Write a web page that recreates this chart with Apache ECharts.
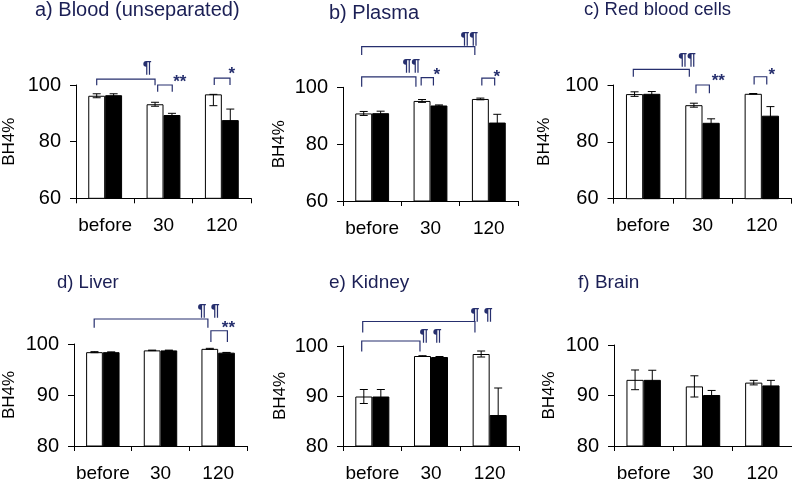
<!DOCTYPE html>
<html>
<head>
<meta charset="utf-8">
<script src="https://cdn.jsdelivr.net/npm/echarts@6/dist/echarts.min.js"></script>
<style>
  html, body { margin: 0; padding: 0; background: #fff; }
  #chart { width: 792px; height: 483px; }
</style>
</head>
<body>
<div id="chart"></div>
<script>
const categories = ['before', '30', '120']

// a) Blood (unseparated)
const bloodWhite = [96.2, 93.2, 96.7]
const bloodWhiteErr = [[0.7, 0.7], [0.7, 0.7], [4.0, 0]]
const bloodBlack = [96.4, 89.4, 87.6]
const bloodBlackErr = [0.5, 0.6, 3.9]
// [label, x1, x2, top, legEnd, labelX, labelY]  (x in category units, y in BH4%)
const bloodBrackets = [
  ['¶', -0.145, 0.855, 102.1, 99.9, 0.72, 106],
  ['**', 0.9, 1.15, 100, 97.6, 1.28, 102.3],
  ['*', 1.87, 2.14, 102.4, 100, 2.17, 105.3]
]

// b) Plasma
const plasmaWhite = [90.8, 95.2, 95.9]
const plasmaWhiteErr = [[0.7, 0.7], [0.5, 0.5], [0.3, 0.3]]
const plasmaBlack = [90.9, 93.6, 87.6]
const plasmaBlackErr = [0.7, 0.2, 2.9]
const plasmaBrackets = [
  ['¶¶', -0.18, 1.76, 114.3, 111.4, 1.665, 117.2],
  ['¶¶', -0.18, 0.75, 103.7, 100.2, 0.672, 107.8],
  ['*', 0.84, 1.05, 103.4, 100.6, 1.107, 105.5],
  ['*', 1.88, 2.1, 103.2, 100.6, 2.136, 104.9]
]

// c) Red blood cells
const rbcWhite = [96.8, 92.9, 96.9]
const rbcWhiteErr = [[0.8, 0.8], [0.7, 0.7], [0.1, 0.1]]
const rbcBlack = [96.9, 86.7, 89.2]
const rbcBlackErr = [0.8, 1.4, 3.2]
const rbcBrackets = [
  ['¶¶', -0.166, 0.778, 105.5, 102.9, 0.74, 109.1],
  ['**', 0.89, 1.116, 100, 97.1, 1.267, 102.7],
  ['*', 1.87, 2.083, 102.9, 100.2, 2.168, 104.7]
]

// d) Liver
const liverWhite = [98.4, 98.75, 99.05]
const liverWhiteErr = [[0.1, 0.1], [0.05, 0.05], [0.1, 0.1]]
const liverBlack = [98.4, 98.75, 98.3]
const liverBlackErr = [0.05, 0.05, 0.05]
const liverBrackets = [
  ['¶ ¶', -0.15, 1.822, 104.9, 103.2, 1.833, 106.6],
  ['**', 1.874, 2.16, 102.6, 100.4, 2.178, 103.9]
]

// e) Kidney
const kidneyWhite = [89.9, 98.0, 98.4]
const kidneyWhiteErr = [[1.4, 1.4], [0.05, 0.05], [0.6, 0.6]]
const kidneyBlack = [89.9, 97.8, 86.2]
const kidneyBlackErr = [1.4, 0.1, 5.4]
const kidneyBrackets = [
  ['¶ ¶', -0.164, 1.749, 104.9, 102.7, 1.863, 106.2],
  ['¶ ¶', -0.181, 0.812, 101, 98.9, 0.994, 102.1]
]

// f) Brain
const brainWhite = [93.1, 91.8, 92.55]
const brainWhiteErr = [[1.95, 1.95], [2.1, 2.1], [0.45, 0.45]]
const brainBlack = [93.1, 90.1, 92.0]
const brainBlackErr = [1.9, 0.9, 1.0]
const brainBrackets = []

const panels = [
  { title: 'a) Blood (unseparated)', white: bloodWhite, whiteErr: bloodWhiteErr, black: bloodBlack, blackErr: bloodBlackErr, brackets: bloodBrackets,
    min: 60, max: 100, step: 20, grid: { left: 75, top: 85, width: 176, height: 113.3 }, tLeft: 35, tTop: 0, tSize: 20, nameGap: 58, nameSize: 17 },
  { title: 'b) Plasma', white: plasmaWhite, whiteErr: plasmaWhiteErr, black: plasmaBlack, blackErr: plasmaBlackErr, brackets: plasmaBrackets,
    min: 60, max: 100, step: 20, grid: { left: 343, top: 87.3, width: 175, height: 113.7 }, tLeft: 329, tTop: 3, tSize: 20, nameGap: 55, nameSize: 17 },
  { title: 'c) Red blood cells', white: rbcWhite, whiteErr: rbcWhiteErr, black: rbcBlack, blackErr: rbcBlackErr, brackets: rbcBrackets,
    min: 60, max: 100, step: 20, grid: { left: 613.5, top: 85, width: 178, height: 113.7 }, tLeft: 584, tTop: 0, tSize: 18.5, nameGap: 61, nameSize: 17 },
  { title: 'd) Liver', white: liverWhite, whiteErr: liverWhiteErr, black: liverBlack, blackErr: liverBlackErr, brackets: liverBrackets,
    min: 80, max: 100, step: 10, grid: { left: 73, top: 344, width: 174, height: 106.7 }, tLeft: 57, tTop: 273, tSize: 18.5, nameGap: 56, nameSize: 17 },
  { title: 'e) Kidney', white: kidneyWhite, whiteErr: kidneyWhiteErr, black: kidneyBlack, blackErr: kidneyBlackErr, brackets: kidneyBrackets,
    min: 80, max: 100, step: 10, grid: { left: 343, top: 346, width: 176, height: 105.7 }, tLeft: 329, tTop: 273, tSize: 19, nameGap: 54, nameSize: 17 },
  { title: 'f) Brain', white: brainWhite, whiteErr: brainWhiteErr, black: brainBlack, blackErr: brainBlackErr, brackets: brainBrackets,
    min: 80, max: 100, step: 10, grid: { left: 614, top: 345, width: 178, height: 105.7 }, tLeft: 578, tTop: 273, tSize: 19, nameGap: 56, nameSize: 17 }
]

const FONT = '"Liberation Sans", Arial, sans-serif'
const NAVY = '#262f6e'
const BAR_SHIFT = 0.145 // half of the bar width, in category units

const chart = echarts.init(document.getElementById('chart'))

const title = []
const grid = []
const xAxis = []
const yAxis = []
const series = []

function errorSeries(idx, side, values, errs) {
  return {
    type: 'custom',
    xAxisIndex: idx,
    yAxisIndex: idx,
    z: 5,
    clip: false,
    silent: true,
    data: values.map((v, i) => {
      const e = errs[i]
      const lo = Array.isArray(e) ? e[0] : e
      const hi = Array.isArray(e) ? e[1] : e
      return [i, v, lo, hi]
    }),
    renderItem(params, api) {
      const c = api.coord([api.value(0), api.value(1)])
      const band = api.size([1, 0])[0]
      const x = c[0] + side * BAR_SHIFT * band
      const yLo = api.coord([0, api.value(1) - api.value(2)])[1]
      const yHi = api.coord([0, api.value(1) + api.value(3)])[1]
      const half = 4
      const style = { stroke: '#000', lineWidth: 1 }
      return {
        type: 'group',
        children: [
          { type: 'line', shape: { x1: x, y1: yLo, x2: x, y2: yHi }, style },
          { type: 'line', shape: { x1: x - half, y1: yHi, x2: x + half, y2: yHi }, style },
          { type: 'line', shape: { x1: x - half, y1: yLo, x2: x + half, y2: yLo }, style }
        ]
      }
    }
  }
}

function bracketSeries(idx, brackets) {
  return {
    type: 'custom',
    xAxisIndex: idx,
    yAxisIndex: idx,
    z: 6,
    clip: false,
    silent: true,
    data: brackets.map(b => b.slice(1)),
    renderItem(params, api) {
      const b = brackets[params.dataIndex]
      const c0 = api.coord([0, api.value(2)])
      const band = api.size([1, 0])[0]
      const px = u => c0[0] + u * band
      const yTop = c0[1]
      const yEnd = api.coord([0, api.value(3)])[1]
      const x1 = px(api.value(0))
      const x2 = px(api.value(1))
      const ly = api.coord([0, api.value(5)])[1]
      const star = b[0].indexOf('*') >= 0
      const style = { stroke: NAVY, lineWidth: 1.2, fill: null }
      return {
        type: 'group',
        children: [
          { type: 'polyline', shape: { points: [[x1, yEnd], [x1, yTop], [x2, yTop], [x2, yEnd]] }, style },
          {
            type: 'text',
            style: {
              text: b[0], x: px(api.value(4)), y: ly + (star ? 4 : 1),
              fill: NAVY, fontFamily: FONT, fontSize: star ? 17 : 16, fontWeight: 'bold',
              align: 'center', verticalAlign: 'middle'
            }
          }
        ]
      }
    }
  }
}

panels.forEach((p, i) => {
  title.push({
    text: p.title, left: p.tLeft, top: p.tTop, padding: 0,
    textStyle: { color: '#1b1f55', fontFamily: FONT, fontSize: p.tSize, fontWeight: 'normal' }
  })
  grid.push(Object.assign({ containLabel: false }, p.grid))
  xAxis.push({
    type: 'category', gridIndex: i, data: categories,
    axisLine: { lineStyle: { color: '#000', width: 1 } },
    axisTick: { show: true, length: 5, lineStyle: { color: '#000' } },
    axisLabel: { color: '#000', fontFamily: FONT, fontSize: 19, margin: 18, interval: 0 }
  })
  yAxis.push({
    type: 'value', gridIndex: i, min: p.min, max: p.max, interval: p.step,
    name: 'BH4%', nameLocation: 'middle', nameGap: p.nameGap,
    nameTextStyle: { color: '#000', fontFamily: FONT, fontSize: p.nameSize },
    axisLine: { show: true, lineStyle: { color: '#000', width: 1 } },
    axisTick: { show: true, length: 6, lineStyle: { color: '#000' } },
    axisLabel: { color: '#000', fontFamily: FONT, fontSize: 20, margin: 15 },
    splitLine: { show: false }
  })
  series.push({
    type: 'bar', xAxisIndex: i, yAxisIndex: i, data: p.white,
    barWidth: '29%', barGap: '0%', silent: true,
    itemStyle: { color: '#fff', borderColor: '#000', borderWidth: 1 }
  })
  series.push({
    type: 'bar', xAxisIndex: i, yAxisIndex: i, data: p.black,
    barWidth: '29%', barGap: '0%', silent: true,
    itemStyle: { color: '#000', borderColor: '#000', borderWidth: 1 }
  })
  series.push(errorSeries(i, -1, p.white, p.whiteErr))
  series.push(errorSeries(i, 1, p.black, p.blackErr))
  if (p.brackets.length) series.push(bracketSeries(i, p.brackets))
})

chart.setOption({
  animation: false,
  backgroundColor: '#fff',
  title,
  grid,
  xAxis,
  yAxis,
  series
})
</script>
</body>
</html>
